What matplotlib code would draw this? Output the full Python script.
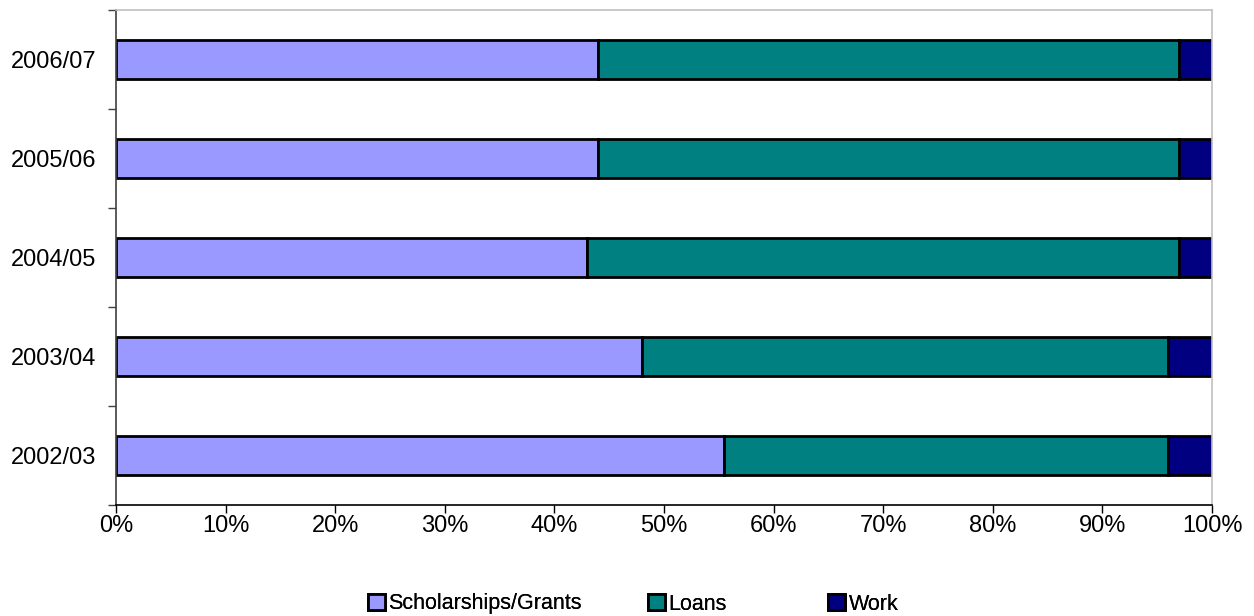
# Stacked horizontal bar chart: share of student aid by type
import numpy as np
import matplotlib.pyplot as plt
from matplotlib.ticker import MultipleLocator, FixedLocator, PercentFormatter

plt.rcParams['font.family'] = ['Liberation Sans', 'DejaVu Sans']

# data (percent), bottom to top
years = ['2002/03', '2003/04', '2004/05', '2005/06', '2006/07']
grants = [55.5, 48, 43, 44, 44]
loans = [40.5, 48, 54, 53, 53]
work = [4, 4, 3, 3, 3]
series_names = ['Scholarships/Grants', 'Loans', 'Work']
colors = ['#9999FF', '#008080', '#000080']

fig = plt.figure(figsize=(12.54, 6.16), dpi=100)
ax = fig.add_axes([116/1254, 1 - 505/616, 1096/1254, 495/616])

y = np.arange(len(years))
left = np.zeros(len(years))
bars = []
for vals, name, col in zip([grants, loans, work], series_names, colors):
    b = ax.barh(y, vals, left=left, height=0.4, color=col, edgecolor='black',
                linewidth=2.0, label=name)
    bars.append(b)
    left = left + np.array(vals)

ax.set_xlim(0, 100)
ax.set_ylim(-0.5, len(years) - 0.5)
ax.xaxis.set_major_locator(MultipleLocator(10))
ax.xaxis.set_major_formatter(PercentFormatter(decimals=0))
ax.set_yticks(y)
ax.set_yticklabels(years)
ax.yaxis.set_minor_locator(FixedLocator(np.arange(-0.5, len(years), 1)))
ax.tick_params(axis='y', which='major', length=0, pad=14, labelsize=17)
ax.tick_params(axis='y', which='minor', length=6, width=1, color='#404040')
ax.tick_params(axis='x', length=6, width=1, labelsize=17, pad=1)

ax.spines['top'].set_color('#c0c0c0')
ax.spines['right'].set_color('#c0c0c0')
ax.spines['left'].set_color('#404040')
ax.spines['bottom'].set_color('black')
for s in ax.spines.values():
    s.set_linewidth(1.2)

# legend entries placed one by one, like the original
legend_x = [368, 648, 828]
for b, name, lx in zip(bars, series_names, legend_x):
    leg = fig.legend([b], [name], loc='center left',
                     bbox_to_anchor=(lx/1254, 1 - 604/616), frameon=False,
                     fontsize=15.5, handlelength=0.8, handleheight=0.8,
                     handletextpad=0.15, borderpad=0, borderaxespad=0)
    fig.add_artist(leg)

fig.savefig('out.png', dpi=100)
